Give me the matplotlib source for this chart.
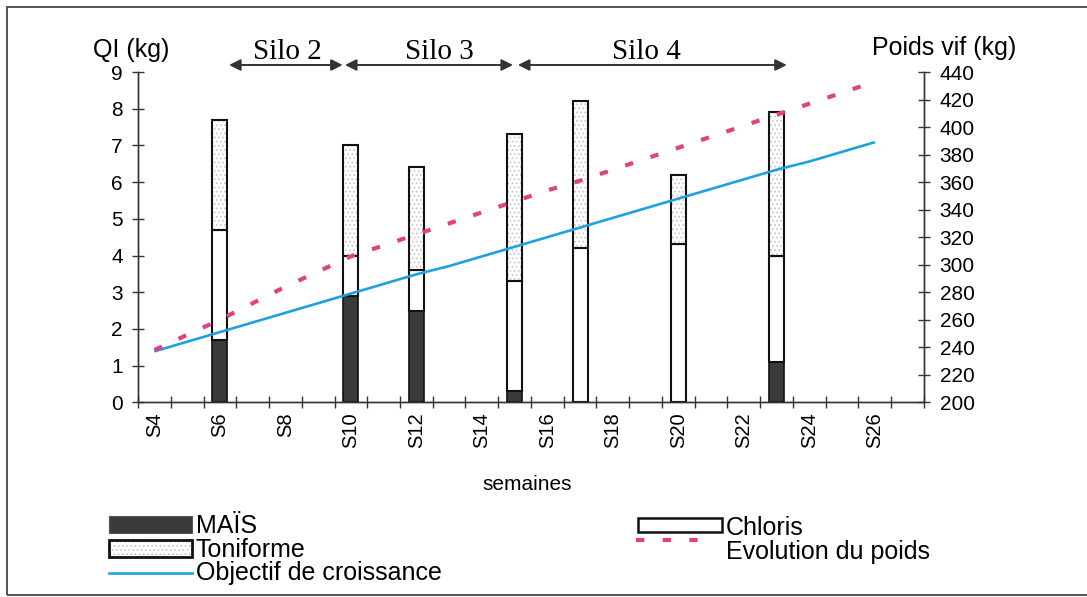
import matplotlib
matplotlib.use("Agg")
import matplotlib.pyplot as plt
from matplotlib.patches import Rectangle
from matplotlib.lines import Line2D

plt.rcParams['font.family'] = ['Liberation Sans', 'DejaVu Sans']
plt.rcParams['hatch.linewidth'] = 0.7

# Weeks on the x axis (S4 .. S27), labels shown every other week
weeks = ['S' + str(w) for w in range(4, 28)]
shown_weeks = ['S' + str(w) for w in range(4, 27, 2)]

# Daily intake (QI, kg) per feed, for the weeks where it was measured
bar_weeks = ['S6', 'S10', 'S12', 'S15', 'S17', 'S20', 'S23']
mais = [1.7, 2.9, 2.5, 0.3, 0.0, 0.0, 1.1]
chloris = [3.0, 1.1, 1.1, 3.0, 4.2, 4.3, 2.9]
toniforme = [3.0, 3.0, 2.8, 4.0, 4.0, 1.9, 3.9]

# Live weight (kg), S4 .. S26
line_weeks = ['S' + str(w) for w in range(4, 27)]
poids = [238, 249, 260, 272, 284, 295, 306, 314, 322, 330, 338, 346,
         354, 361, 369, 377, 385, 393, 401, 409, 417, 425, 433]
objectif = [237, 244, 251, 258, 265, 272, 279, 286, 293, 299, 306, 313,
            320, 327, 334, 341, 348, 355, 362, 369, 375, 382, 389]

# Silo periods: (label, start, end) in week units
silos = [('Silo 2', 'S6', 0.28, 'S9', 0.75, 'S8', 0.05),
         ('Silo 3', 'S9', 0.82, 'S14', 0.95, 'S12', 0.69),
         ('Silo 4', 'S15', 0.10, 'S23', 0.31, 'S19', 0.04)]

W, H = 1087, 597
DARK = '#3a3a3a'
PINK = '#e2417c'
BLUE = '#1ea2de'
DOTS = '#c4c4c4'


def px(x, y):
    # figure pixel (from top-left) -> figure fraction
    return x / W, 1 - y / H


def week_pos(w, off=0.0):
    return weeks.index(w) + off


def draw_bars(ax):
    x = [week_pos(w) for w in bar_weeks]
    width = 0.46
    bottom_c = mais
    bottom_t = [m + c for m, c in zip(mais, chloris)]
    ax.bar(x, mais, width, color=DARK, edgecolor='#111111', linewidth=1.2)
    ax.bar(x, chloris, width, bottom=bottom_c, color='white',
           edgecolor='#111111', linewidth=1.5)
    # dotted fill first, then the black outline on top
    ax.bar(x, toniforme, width, bottom=bottom_t, color='white',
           edgecolor=DOTS, hatch='....', linewidth=0)
    ax.bar(x, toniforme, width, bottom=bottom_t, color='none',
           edgecolor='#111111', linewidth=1.5)


def main():
    fig = plt.figure(figsize=(W / 100, H / 100), dpi=100)
    l, b = px(138, 402.3)
    ax = fig.add_axes([l, b, 786 / W, 330.3 / H])
    ax2 = ax.twinx()

    draw_bars(ax)

    xl = [week_pos(w) for w in line_weeks]
    ax2.plot(xl, objectif, color=BLUE, linewidth=1.9, solid_capstyle='butt')
    ax2.plot(xl, poids, color=PINK, linewidth=3.0, dashes=(2.0, 4.4),
             dash_capstyle='butt')

    # axes ranges and ticks
    ax.set_xlim(-0.5, len(weeks) - 0.5)
    ax.set_ylim(0, 9)
    ax2.set_ylim(200, 440)
    ax.set_yticks(range(0, 10))
    ax2.set_yticks(range(200, 441, 20))

    ax.set_xticks([i - 0.5 for i in range(len(weeks) + 1)])
    ax.set_xticklabels([])
    ax.set_xticks([week_pos(w) for w in shown_weeks], minor=True)
    ax.set_xticklabels(shown_weeks, minor=True, rotation=90, fontsize=14.5,
                       va='top', ha='center')
    ax.tick_params(axis='x', which='major', direction='inout', length=9,
                   width=1, color='#333333')
    ax.tick_params(axis='x', which='minor', length=0, pad=7.5)
    ax.tick_params(axis='y', direction='inout', length=8.6, width=1,
                   color='#333333', labelsize=15, pad=6.5)
    ax2.tick_params(axis='y', direction='inout', length=8.6, width=1,
                    color='#333333', labelsize=15, pad=7)

    for a in (ax, ax2):
        a.spines['top'].set_visible(False)
        for s in ('left', 'right', 'bottom'):
            a.spines[s].set_linewidth(1.0)
            a.spines[s].set_color('#333333')
    ax.patch.set_visible(False)

    # axis titles
    fig.text(*px(131, 50), 'QI (kg)', fontsize=18, ha='center', va='center')
    fig.text(*px(944, 48), 'Poids vif (kg)', fontsize=18, ha='center',
             va='center')
    fig.text(*px(527, 484), 'semaines', fontsize=15, ha='center', va='center')

    # silo periods above the plot
    y_arrow = 1 - 65 / H
    y_text = 1 - 59 / H
    for label, w0, o0, w1, o1, wt, ot in silos:
        ax.annotate('', xy=(week_pos(w1, o1), y_arrow),
                    xytext=(week_pos(w0, o0), y_arrow),
                    xycoords=('data', 'figure fraction'),
                    textcoords=('data', 'figure fraction'),
                    arrowprops=dict(arrowstyle='<|-|>', color='#333333',
                                    lw=1.4, mutation_scale=17,
                                    shrinkA=0, shrinkB=0,
                                    facecolor='#555555'))
        ax.annotate(label, xy=(week_pos(wt, ot), y_text),
                    xycoords=('data', 'figure fraction'),
                    fontsize=21, family='Liberation Serif',
                    ha='center', va='baseline')

    # legend, laid out by hand
    def rect(x0, y0, x1, y1, **kw):
        fx0, fy1 = px(x0, y0)
        fx1, fy0 = px(x1, y1)
        fig.add_artist(Rectangle((fx0, fy0), fx1 - fx0, fy1 - fy0,
                                 transform=fig.transFigure, **kw))

    rect(109, 516, 192, 533, facecolor=DARK, edgecolor='#555555', lw=0.8)
    rect(109, 540, 192, 557, facecolor='white', edgecolor=DOTS, hatch='....',
         lw=0)
    rect(109, 540, 192, 557, facecolor='none', edgecolor='#111111', lw=2)
    x0, y0 = px(109, 573)
    x1, _ = px(192, 573)
    fig.add_artist(Line2D([x0, x1], [y0, y0], color=BLUE, lw=1.9,
                          transform=fig.transFigure))
    rect(638, 518, 722, 532, facecolor='white', edgecolor='#111111', lw=1.8)
    x0, y0 = px(636, 540)
    x1, _ = px(712, 540)
    fig.add_artist(Line2D([x0, x1], [y0, y0], color=PINK, lw=3.0,
                          dashes=(2.0, 4.4), transform=fig.transFigure))

    for x, y, t in [(196, 533, 'MAÏS'), (196, 557, 'Toniforme'),
                    (196, 580, 'Objectif de croissance'),
                    (726, 535, 'Chloris'), (726, 559, 'Evolution du poids')]:
        fig.text(*px(x, y), t, fontsize=18, ha='left', va='baseline')

    # outer frame
    fx, fy = px(7, 595)
    fig.add_artist(Rectangle((fx, fy), 1.05 - fx, (1 - 7 / H) - fy,
                             transform=fig.transFigure, facecolor='none',
                             edgecolor='#444444', lw=1.3))

    fig.savefig('out.png', dpi=100)


if __name__ == "__main__":
    main()
